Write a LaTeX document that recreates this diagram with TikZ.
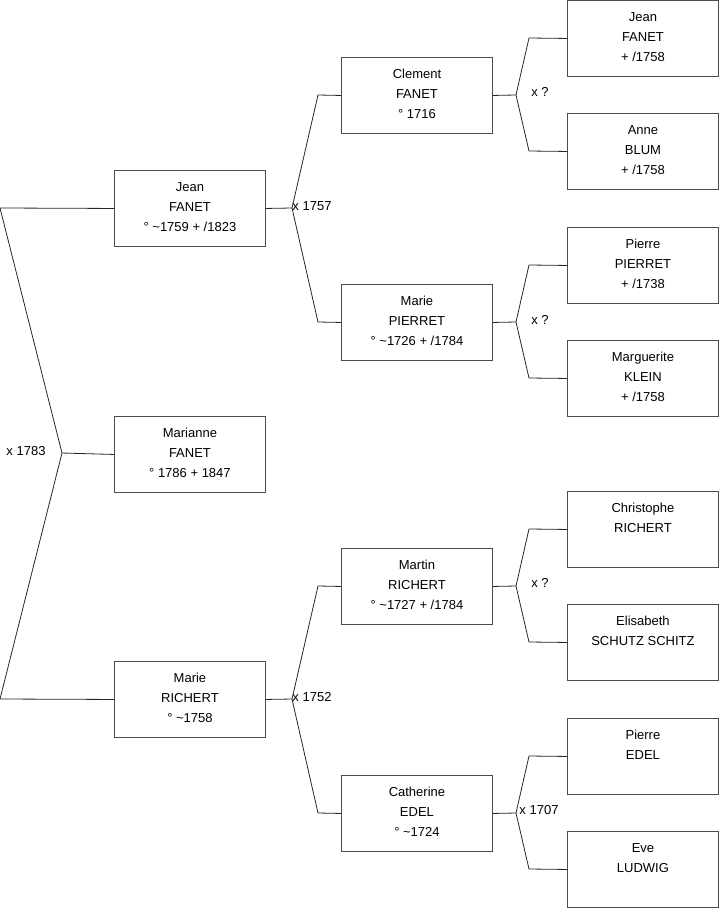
\documentclass[tikz,border=0pt]{standalone}
\usepackage{fontspec}
\setmainfont{Liberation Sans}
\newcommand{\pst}{\rule[-7pt]{0pt}{20pt}}
\newcommand{\pline}[3]{\pst #1\\\pst #2\\\pst #3}
\tikzset{
  person/.style={draw=black!70, line width=0.9pt, fill=white, minimum width=151pt, minimum height=76pt,
    inner sep=0pt, align=center, anchor=north west, font=\fontsize{13}{20}\selectfont},
  link/.style={draw=black!85, line width=0.8pt, line join=round},
  union/.style={font=\fontsize{13}{16}\selectfont, inner sep=0pt, anchor=center}
}
\begin{document}
\begin{tikzpicture}[x=1pt,y=-1pt]
\useasboundingbox (0,0) rectangle (719,908);
% column 1
\node[person] (jean) at (114,170) {\pline{Jean}{FANET}{° \textasciitilde 1759 + /1823}};
\node[person] (marianne) at (114,416) {\pline{Marianne}{FANET}{° 1786 + 1847}};
\node[person] (marie) at (114,661) {\pline{Marie}{RICHERT}{° \textasciitilde 1758}};
% column 2
\node[person] (clement) at (341,57) {\pline{Clement}{FANET}{° 1716}};
\node[person] (mariep) at (341,284) {\pline{Marie}{PIERRET}{° \textasciitilde 1726 + /1784}};
\node[person] (martin) at (341,548) {\pline{Martin}{RICHERT}{° \textasciitilde 1727 + /1784}};
\node[person] (catherine) at (341,775) {\pline{Catherine}{EDEL}{° \textasciitilde 1724}};
% column 3
\node[person] (jeanf) at (567,0) {\pline{Jean}{FANET}{+ /1758}};
\node[person] (anne) at (567,113) {\pline{Anne}{BLUM}{+ /1758}};
\node[person] (pierrep) at (567,227) {\pline{Pierre}{PIERRET}{+ /1738}};
\node[person] (marguerite) at (567,340) {\pline{Marguerite}{KLEIN}{+ /1758}};
\node[person] (christophe) at (567,491) {\pline{Christophe}{RICHERT}{}};
\node[person] (elisabeth) at (567,604) {\pline{Elisabeth}{SCHUTZ SCHITZ}{}};
\node[person] (pierree) at (567,718) {\pline{Pierre}{EDEL}{}};
\node[person] (eve) at (567,831) {\pline{Eve}{LUDWIG}{}};

% left fork (Marianne's parents)
\coordinate (l1) at (0,208);
\coordinate (l0) at (62,453);
\coordinate (l2) at (0,699);
\draw[link] (jean.west) -- (l1) -- (l0) -- (l2) -- (marie.west);
\draw[link] (l0) -- (marianne.west);
\node[union] (u0) at (26,451) {x 1783};

% fork Jean FANET
\coordinate (a0) at (292,208);
\coordinate (a1) at (318,95);
\coordinate (a2) at (318,322);
\draw[link] (jean.east) -- (a0);
\draw[link] (clement.west) -- (a1) -- (a0) -- (a2) -- (mariep.west);
\node[union] (ua) at (312,206) {x 1757};

% fork Marie RICHERT
\coordinate (b0) at (292,699);
\coordinate (b1) at (318,586);
\coordinate (b2) at (318,813);
\draw[link] (marie.east) -- (b0);
\draw[link] (martin.west) -- (b1) -- (b0) -- (b2) -- (catherine.west);
\node[union] (ub) at (312,697) {x 1752};

% fork Clement
\coordinate (c0) at (516,95);
\coordinate (c1) at (529,38);
\coordinate (c2) at (529,151);
\draw[link] (clement.east) -- (c0);
\draw[link] (jeanf.west) -- (c1) -- (c0) -- (c2) -- (anne.west);
\node[union] (uc) at (540,92) {x ?};

% fork Marie PIERRET
\coordinate (d0) at (516,322);
\coordinate (d1) at (529,265);
\coordinate (d2) at (529,378);
\draw[link] (mariep.east) -- (d0);
\draw[link] (pierrep.west) -- (d1) -- (d0) -- (d2) -- (marguerite.west);
\node[union] (ud) at (540,320) {x ?};

% fork Martin
\coordinate (e0) at (516,586);
\coordinate (e1) at (529,529);
\coordinate (e2) at (529,642);
\draw[link] (martin.east) -- (e0);
\draw[link] (christophe.west) -- (e1) -- (e0) -- (e2) -- (elisabeth.west);
\node[union] (ue) at (540,583) {x ?};

% fork Catherine
\coordinate (f0) at (516,813);
\coordinate (f1) at (529,756);
\coordinate (f2) at (529,869);
\draw[link] (catherine.east) -- (f0);
\draw[link] (pierree.west) -- (f1) -- (f0) -- (f2) -- (eve.west);
\node[union] (uf) at (539,810) {x 1707};
\end{tikzpicture}
\end{document}
